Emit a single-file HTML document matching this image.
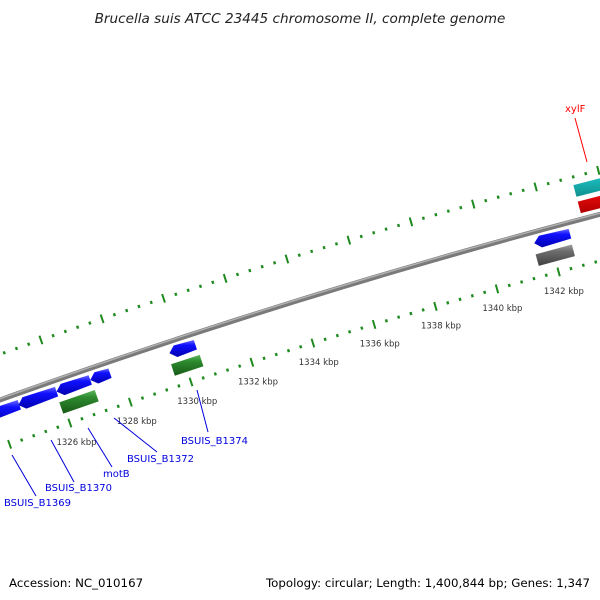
<!DOCTYPE html>
<html><head><meta charset="utf-8"><style>
html,body{margin:0;padding:0;background:#fff;}
svg{display:block;font-family:"DejaVu Sans","Liberation Sans",sans-serif;}
</style></head><body>
<svg id="map" width="600" height="600" viewBox="0 0 600 600" xmlns="http://www.w3.org/2000/svg">
<defs>
<linearGradient id="gBlue" x1="0" y1="0" x2="0" y2="1"><stop offset="0" stop-color="#6a6aff"/><stop offset="0.3" stop-color="#1010ff"/><stop offset="1" stop-color="#0000b0"/></linearGradient>
<linearGradient id="gGreen" x1="0" y1="0" x2="0" y2="1"><stop offset="0" stop-color="#5fb85f"/><stop offset="0.3" stop-color="#2e8b2e"/><stop offset="1" stop-color="#175a17"/></linearGradient>
<linearGradient id="gGray" x1="0" y1="0" x2="0" y2="1"><stop offset="0" stop-color="#a0a0a0"/><stop offset="0.3" stop-color="#6e6e6e"/><stop offset="1" stop-color="#404040"/></linearGradient>
<linearGradient id="gCyan" x1="0" y1="0" x2="0" y2="1"><stop offset="0" stop-color="#8ff0f0"/><stop offset="0.3" stop-color="#20d0d0"/><stop offset="1" stop-color="#109090"/></linearGradient>
<linearGradient id="gRed" x1="0" y1="0" x2="0" y2="1"><stop offset="0" stop-color="#ff8080"/><stop offset="0.3" stop-color="#ff1010"/><stop offset="1" stop-color="#b00000"/></linearGradient>
</defs>
<text x="300" y="23" text-anchor="middle" font-size="13.6" font-style="italic" fill="#222">Brucella suis ATCC 23445 chromosome II, complete genome</text>
<g id="layer"></g>
<text x="9" y="587" font-size="11.8" fill="#000">Accession: NC_010167</text>
<text x="590" y="587" text-anchor="end" font-size="11.8" fill="#000">Topology: circular; Length: 1,400,844 bp; Genes: 1,347</text>
</svg>
<script>
const genomeKbp = 1400.844;
const tickStartIdx = 3290, tickEndIdx = 3370; // index * 0.4 kbp
const labelKbp = [1326, 1328, 1330, 1332, 1334, 1336, 1338, 1340, 1342];
const geneStart = [1323.3, 1324.67, 1325.93, 1327.04, 1329.64, 1341.5, 1325.9, 1329.58, 1341.45, 1343.14, 1343.14];
const geneEnd   = [1324.7, 1325.93, 1327.04, 1327.69, 1330.49, 1342.65, 1327.07, 1330.52, 1342.62, 1346.5, 1346.5];
const geneTrack = ['inA','inA','inA','inA','inA','inA','inB','inB','inB','outB','outA'];
const geneColor = ['gBlue','gBlue','gBlue','gBlue','gBlue','gBlue','gGreen','gGreen','gGray','gCyan','gRed'];
const geneArrow = [true,true,true,true,true,true,false,false,false,false,false];
const geneLabels = ['BSUIS_B1369','BSUIS_B1370','motB','BSUIS_B1372','BSUIS_B1374','xylF'];
const geneLabelColor = ['#0000dd','#0000dd','#0000dd','#0000dd','#0000dd','#ff0000'];

const CX = 2418.7, CY = 7155;
const R_BACK = 7175, R_LOW = 7130, R_UP = 7218;
const tracks = {inA:[7159,7169], inB:[7141,7153], outA:[7181,7193], outB:[7198,7210]};
const NS = 'http://www.w3.org/2000/svg';
const layer = document.getElementById('layer');
function ang(k){ return k/genomeKbp*2*Math.PI; }
function pos(k, r){ const t = ang(k); return [CX + r*Math.sin(t), CY - r*Math.cos(t)]; }
function mk(tag, attrs){ const e = document.createElementNS(NS, tag); for (const a in attrs) e.setAttribute(a, attrs[a]); layer.appendChild(e); return e; }

function arcPts(k0,k1,r,n){ const p=[]; for(let i=0;i<=n;i++){ const q=pos(k0+(k1-k0)*i/n, r); p.push(q[0].toFixed(2)+','+q[1].toFixed(2)); } return p; }
let bb = mk('polyline',{points:arcPts(1318,1347,R_BACK,40).join(' '),fill:'none',stroke:'#7a7a7a','stroke-width':5});


let bb2 = mk('polyline',{points:arcPts(1318,1347,R_BACK+1.2,40).join(' '),fill:'none',stroke:'#b0b0b0','stroke-width':1.5});



for (let i = tickStartIdx; i <= tickEndIdx; i++) {
  const k = i*0.4;
  const major = (i % 5 === 0);
  const len = major ? 4.5 : 1.5;
  [R_LOW, R_UP].forEach(function(r, j){
    const a = pos(k, r-len), b = pos(k, r+len);
    const t = mk('line',{x1:a[0],y1:a[1],x2:b[0],y2:b[1],stroke:'#1f8a1f','stroke-width':major?2:2.4});
    
    
  });
}
labelKbp.forEach(function(k){
  const p = pos(k, R_LOW-20);
  const t = mk('text',{x:p[0].toFixed(1),y:(p[1]+3).toFixed(1),'text-anchor':'middle','font-size':8.5,fill:'#333'});
  t.textContent = k + ' kbp';
  
  
});

for (let g = 0; g < geneStart.length; g++) {
  const tr = tracks[geneTrack[g]];
  const r0 = tr[0], r1 = tr[1], rm = (r0+r1)/2;
  let k0 = geneStart[g], k1 = geneEnd[g];
  const pts = [];
  if (geneArrow[g]) {
    const head = 0.2;
    pts.push(pos(k0, rm));
    pts.push(pos(k0+head, r1+1)); pts.push(pos(k1, r1));
    pts.push(pos(k1, r0)); pts.push(pos(k0+head, r0-1));
  } else {
    pts.push(pos(k0, r1)); pts.push(pos(k1, r1)); pts.push(pos(k1, r0)); pts.push(pos(k0, r0));
  }
  const e = mk('polygon',{points:pts.map(p=>p[0].toFixed(2)+','+p[1].toFixed(2)).join(' '),fill:'url(#'+geneColor[g]+')'});
  
  
}

const labelXY = [[4,506],[45,491],[103,477],[127,462],[181,444],[565,112]];
const leader = [[12,455,36,496],[51,440,74,482],[88,428,112,467],[114,418,157,452],[197,390,208,432],[575,118,587,162]];
for (let i = 0; i < geneLabels.length; i++) {
  const l = leader[i];
  const ln = mk('line',{x1:l[0],y1:l[1],x2:l[2],y2:l[3],stroke:geneLabelColor[i],'stroke-width':1});
  
  
  const t = mk('text',{x:labelXY[i][0],y:labelXY[i][1],'font-size':10,fill:geneLabelColor[i]});
  t.textContent = geneLabels[i];
  
  
}
</script>
</body></html>
